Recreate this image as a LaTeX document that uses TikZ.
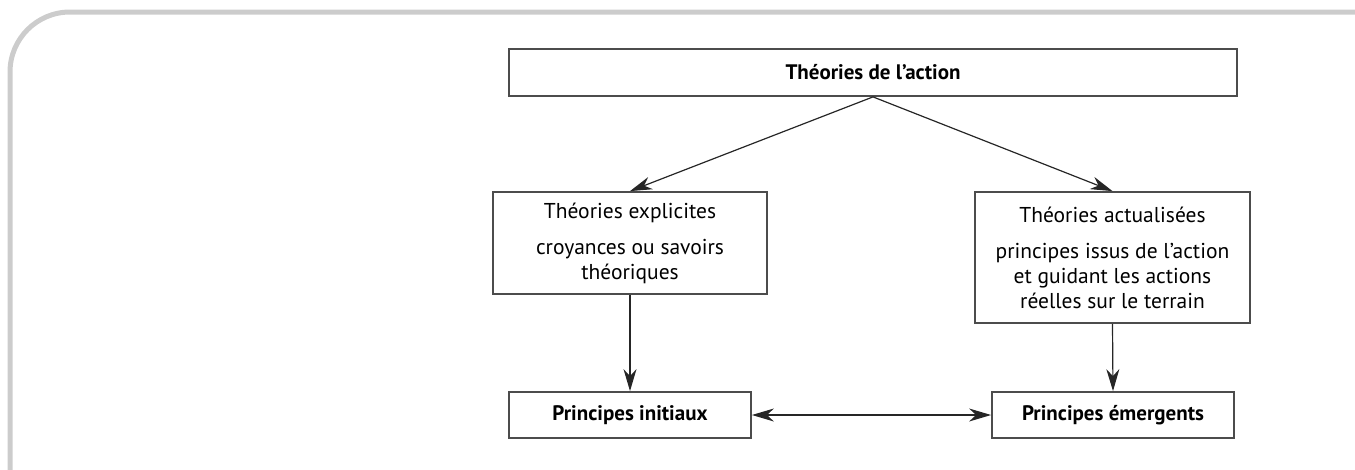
\documentclass[tikz,border=0pt]{standalone}
\usepackage{fontspec}
\setmainfont{PT Sans}
\usetikzlibrary{arrows.meta}

\tikzset{
  box/.style={draw=black!70, line width=1.8pt, inner sep=0pt, align=center,
    font=\fontsize{21.5}{25}\selectfont},
  boldbox/.style={box, font=\fontsize{21}{25}\selectfont\bfseries},
  conn/.style={draw=black!85, line width=1.2pt},
  tip/.style={-{Stealth[length=22pt, width=13pt, inset=7pt]}},
}

\begin{document}
\begin{tikzpicture}[x=1pt, y=-1pt]

    % Frame
    \useasboundingbox (0,0) rectangle (1355,469);
    \draw[black!20, line width=5pt, rounded corners=60pt] (10,520) -- (10,12) -- (1420,12);

    % Nodes
    \node[boldbox, minimum width=728pt, minimum height=47pt]
      (action) at (873,72.5) {Théories de l’action};
    \node[box, minimum width=274pt, minimum height=102pt]
      (explicit) at (630,243) {Théories explicites\\[11pt]croyances ou savoirs\\théoriques};
    \node[box, minimum width=275pt, minimum height=131pt]
      (actual) at (1112.5,257.5) {Théories actualisées\\[11pt]principes issus de l’action\\et guidant les actions\\réelles sur le terrain};
    \node[boldbox, minimum width=242pt, minimum height=46pt]
      (initial) at (630,415) {Principes initiaux};
    \node[boldbox, minimum width=242pt, minimum height=46pt]
      (emerge) at (1113,415) {Principes émergents};

    % Edges
    \draw[conn, tip] (action.south) -- (explicit.north);
    \draw[conn, tip] (action.south) -- (actual.north);
    \draw[conn, tip] (explicit.south) -- (initial.north);
    \draw[conn, tip] (actual.south) -- (emerge.north);
    \draw[conn, {Stealth[length=22pt, width=13pt, inset=7pt]}-{Stealth[length=22pt, width=13pt, inset=7pt]}]
      (initial.east) -- (emerge.west);
\end{tikzpicture}
\end{document}
